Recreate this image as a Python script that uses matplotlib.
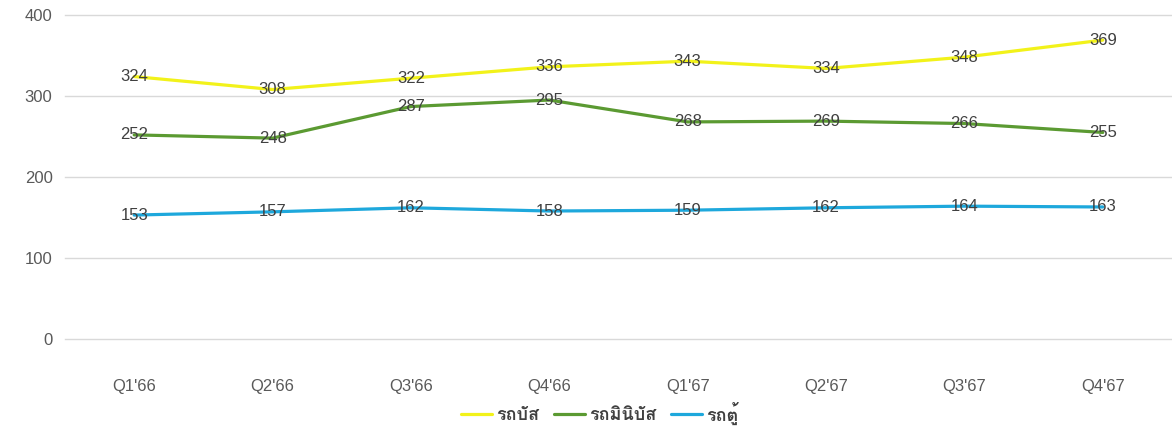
import matplotlib
matplotlib.use("Agg")
import matplotlib.pyplot as plt
from matplotlib import font_manager
from matplotlib.ft2font import FT2Font

categories = ["Q1'66", "Q2'66", "Q3'66", "Q4'66", "Q1'67", "Q2'67", "Q3'67", "Q4'67"]
bus = [324, 308, 322, 336, 343, 334, 348, 369]
minibus = [252, 248, 287, 295, 268, 269, 266, 255]
van = [153, 157, 162, 158, 159, 162, 164, 163]
series_names = ["รถบัส", "รถมินิบัส", "รถตู้"]
yticks = [0, 100, 200, 300, 400]

# find a font with Thai glyphs
thai_font = None
for f in font_manager.fontManager.ttflist:
    try:
        cm = FT2Font(f.fname).get_charmap()
        if 0x0E23 in cm and 0x0E1A in cm:
            thai_font = f.name
            if 'Noto' in f.name or 'Loma' in f.name or 'Tahoma' in f.name:
                break
    except Exception:
        pass

fam = ['Liberation Sans']
if thai_font:
    fam.append(thai_font)
fam.append('DejaVu Sans')
plt.rcParams['font.family'] = fam

fig = plt.figure(figsize=(11.72, 4.32), dpi=100)
ax = fig.add_axes([65/1172, 1-339/432, (1172-65)/1172, (339-15)/432])

colors = ["#f2f21a", "#5b9a32", "#1ea8dc"]
x = list(range(len(categories)))
for vals, c, name in zip([bus, minibus, van], colors, series_names):
    ax.plot(x, vals, color=c, lw=2.3, label=name, zorder=3, solid_capstyle='round')
    for xi, v in zip(x, vals):
        ax.text(xi, v, str(v), ha='center', va='center', fontsize=12, color='#404040', zorder=4)

ax.set_xlim(-0.5, len(categories)-0.5)
ax.set_ylim(0, 400)
ax.set_yticks(yticks)
ax.set_xticks(x)
ax.set_xticklabels(categories)
ax.tick_params(axis='both', length=0, colors='#595959', labelsize=12)
ax.tick_params(axis='y', pad=9)
ax.tick_params(axis='x', pad=29)
ax.grid(axis='y', color='#d9d9d9', lw=1)
for gl in ax.get_ygridlines():
    gl.set_clip_on(False)
ax.set_axisbelow(True)
for s in ax.spines.values():
    s.set_visible(False)

leg = fig.legend(loc='center', bbox_to_anchor=(600/1172, 1-413/432), ncol=3, frameon=False,
                 handlelength=1.7, handletextpad=0.25, columnspacing=0.8,
                 prop={'size': 13, 'weight': 'bold'})
for t in leg.get_texts():
    t.set_color('#404040')

fig.savefig("out.png", dpi=100)
